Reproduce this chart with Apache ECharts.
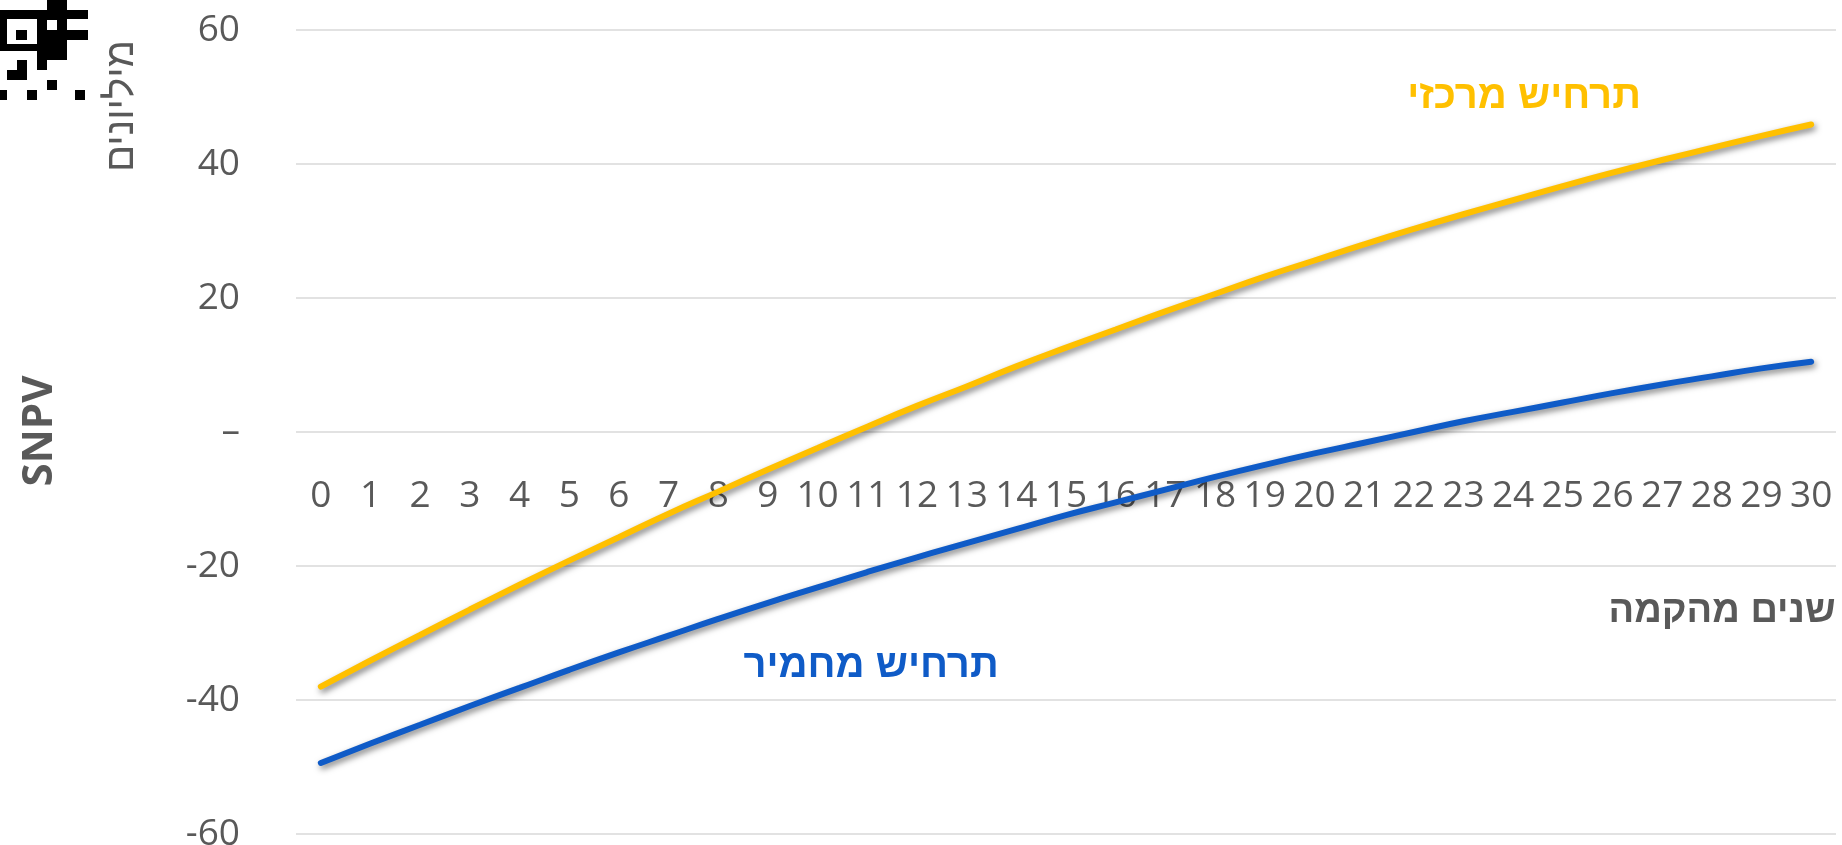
<!DOCTYPE html>
<html>
<head>
<meta charset="utf-8">
<script src="https://cdn.jsdelivr.net/npm/echarts@6/dist/echarts.min.js"></script>
<style>
html,body{margin:0;padding:0;background:#fff;}
#chart{width:1842px;height:845px;}
</style>
</head>
<body>
<div id="chart"></div>
<script>
// Categories: years since establishment
var years = ["0","1","2","3","4","5","6","7","8","9","10","11","12","13","14","15","16","17","18","19","20","21","22","23","24","25","26","27","28","29","30"];
// Central scenario (millions)
var centralScenario = [-38.0,-34.1,-30.3,-26.5,-22.8,-19.2,-15.7,-12.2,-8.9,-5.6,-2.4,0.8,3.9,6.8,9.8,12.6,15.3,18.0,20.6,23.2,25.6,28.0,30.3,32.5,34.6,36.7,38.7,40.6,42.4,44.2,45.9];
// Severe scenario (millions)
var severeScenario = [-49.4,-46.5,-43.7,-40.9,-38.2,-35.5,-32.9,-30.4,-27.9,-25.5,-23.2,-20.9,-18.7,-16.6,-14.5,-12.4,-10.5,-8.6,-6.7,-4.9,-3.2,-1.6,0.0,1.6,3.0,4.4,5.8,7.1,8.3,9.5,10.5];
// Y-axis ticks
var yTicks = [-60,-40,-20,0,20,40,60];

var seriesNames = ["תרחיש מרכזי","תרחיש מחמיר"];
var xAxisName = "שנים מהקמה";
var yAxisName = "SNPV";
var unitName = "מיליונים";

var textGrey = "#595959";
var hebFont = "'Liberation Sans', 'DejaVu Sans', sans-serif";
var numFont = "'Open Sans', 'Liberation Sans', sans-serif";

var chart = echarts.init(document.getElementById('chart'));
var shadow = {shadowColor:'rgba(0,0,0,0.5)', shadowBlur:6, shadowOffsetX:2, shadowOffsetY:3};

chart.setOption({
  backgroundColor:'#fff',
  animation:false,
  grid:{left:296, right:6, top:30, bottom:11, containLabel:false, outerBoundsMode:'none'},
  xAxis:{
    type:'category',
    data:years,
    boundaryGap:true,
    offset:-402,
    axisLine:{show:false, onZero:false},
    axisTick:{show:false},
    axisLabel:{show:true, interval:0, color:textGrey, fontSize:37, fontFamily:numFont, margin:46},
    splitLine:{show:false}
  },
  yAxis:{
    type:'value',
    min:yTicks[0], max:yTicks[yTicks.length-1], interval:20,
    axisLine:{show:false},
    axisTick:{show:false},
    axisLabel:{color:textGrey, fontSize:37, fontFamily:numFont, margin:56,
      formatter:function(v){ return v===0 ? '–' : (v<0 ? '-' + Math.abs(v) : String(v)); }},
    splitLine:{lineStyle:{color:'#d9d9d9', width:1.5}}
  },
  series:[
    {name:seriesNames[0], type:'line', data:centralScenario, symbol:'none', smooth:true,
     lineStyle:Object.assign({color:'#FFC000', width:6, cap:'round'}, shadow), z:3},
    {name:seriesNames[1], type:'line', data:severeScenario, symbol:'none', smooth:true,
     lineStyle:Object.assign({color:'#0F5BC7', width:6, cap:'round'}, shadow), z:3}
  ],
  graphic:[
    {type:'text', x:1524, y:97, style:{text:seriesNames[0], fill:'#FFC000', font:'bold 40px '+hebFont, align:'center', verticalAlign:'middle'}},
    {type:'text', x:871, y:666, style:{text:seriesNames[1], fill:'#0F5BC7', font:'bold 40px '+hebFont, align:'center', verticalAlign:'middle'}},
    {type:'text', x:1722, y:612, style:{text:xAxisName, fill:textGrey, font:'bold 38px '+hebFont, align:'center', verticalAlign:'middle'}},
    {type:'text', x:40, y:431, rotation:Math.PI/2, style:{text:yAxisName, fill:textGrey, font:'bold 42px '+numFont, align:'center', verticalAlign:'middle'}},
    {type:'text', x:122, y:106, rotation:Math.PI/2, style:{text:unitName, fill:textGrey, font:'40px '+hebFont, align:'center', verticalAlign:'middle'}},
    // QR-code fragment decoration in the top-left corner
    {type:'group', children:[
      {type:'rect', shape:{x:0,y:10,width:88,height:9}, style:{fill:'#000'}},
      {type:'rect', shape:{x:47,y:0,width:20,height:10}, style:{fill:'#000'}},
      {type:'rect', shape:{x:0,y:19,width:7,height:32}, style:{fill:'#000'}},
      {type:'rect', shape:{x:7,y:44,width:30,height:7}, style:{fill:'#000'}},
      {type:'rect', shape:{x:16,y:30,width:11,height:10}, style:{fill:'#000'}},
      {type:'rect', shape:{x:37,y:19,width:30,height:41}, style:{fill:'#000'}},
      {type:'rect', shape:{x:67,y:30,width:21,height:10}, style:{fill:'#000'}},
      {type:'rect', shape:{x:47,y:20,width:10,height:10}, style:{fill:'#fff'}},
      {type:'rect', shape:{x:67,y:20,width:10,height:10}, style:{fill:'#fff'}},
      {type:'rect', shape:{x:17,y:60,width:10,height:10}, style:{fill:'#000'}},
      {type:'rect', shape:{x:37,y:60,width:10,height:10}, style:{fill:'#000'}},
      {type:'rect', shape:{x:7,y:70,width:20,height:10}, style:{fill:'#000'}},
      {type:'rect', shape:{x:47,y:80,width:10,height:10}, style:{fill:'#000'}},
      {type:'rect', shape:{x:0,y:90,width:7,height:10}, style:{fill:'#000'}},
      {type:'rect', shape:{x:27,y:90,width:10,height:10}, style:{fill:'#000'}},
      {type:'rect', shape:{x:75,y:90,width:10,height:10}, style:{fill:'#000'}}
    ]}
  ]
});
</script>
</body>
</html>
